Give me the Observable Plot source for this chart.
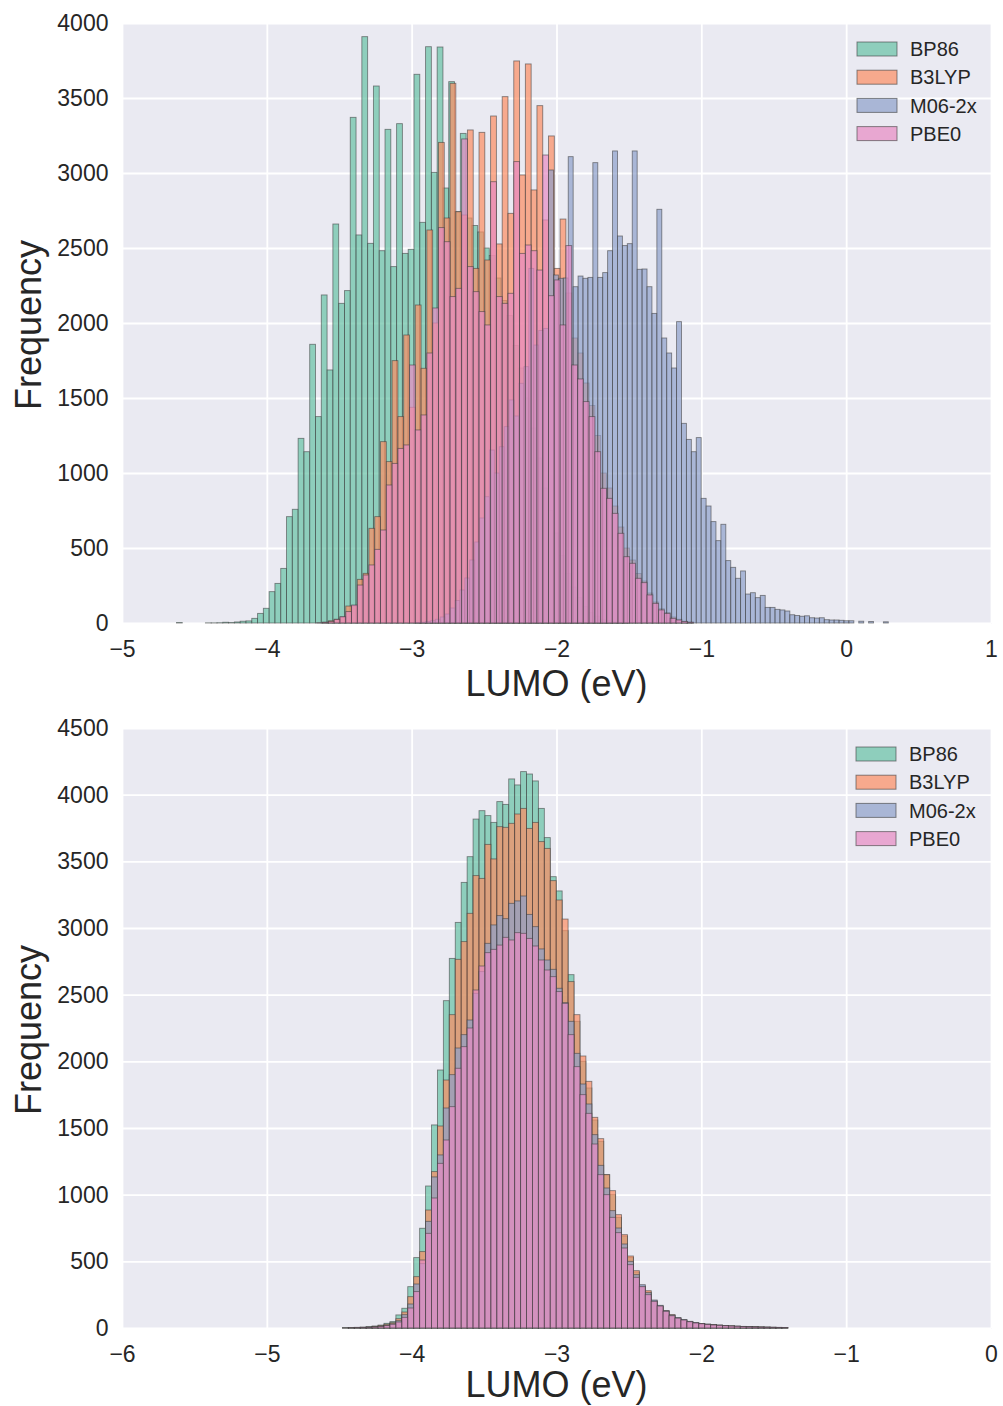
<!DOCTYPE html>
<html>
<head>
<meta charset="utf-8">
<script src="https://cdn.jsdelivr.net/npm/d3@7"></script>
<script src="https://cdn.jsdelivr.net/npm/@observablehq/plot@0.6"></script>
<style>
  body { margin: 0; background: #ffffff; }
  #chart { width: 1003px; }
  #chart svg { display: block; }
</style>
</head>
<body>
<div id="chart"></div>
<script>
// ---------- series ----------
const seriesNames = ["BP86", "B3LYP", "M06-2x", "PBE0"];
const seriesColors = ["#66c2a5", "#fc8d62", "#8da0cb", "#e78ac3"];

// ---------- top panel: LUMO histograms (bin start, bin width, counts) ----------
const topXTicks = [-5, -4, -3, -2, -1, 0, 1];
const topYTicks = [0, 500, 1000, 1500, 2000, 2500, 3000, 3500, 4000];

const topBP86Start = -4.624, topBP86Width = 0.04;
const topBP86 = [3,0,0,0,0,1,1,2,5,3,7,12,14,31,64,
  98,209,264,364,709,758,1231,1142,1858,1376,2187,1687,2660,2131,2216,3371,2587,3909,2531,3580,2482,3291,2376,3329,2464,2491,3658,2671,3842,3004,3840,2900,3609,2742,3264,2700,2650,2607,
  2500,2450,2300,2150,2050,1850,1700,1500,1300,1100,900,750,600,450,330,240,170,110,70,45,25,15,8,4,2];

const topB3LYPStart = -3.615, topB3LYPWidth = 0.04;
const topB3LYP = [5,15,25,40,113,115,291,331,631,709,1209,1076,1749,1376,1920,1438,2120,1698,2620,2000,3204,2700,
  3598,2742,2720,3287,2364,3271,2420,3380,2527,3509,2731,3747,2987,3727,2887,3449,2687,3247,2364,2693,
  2200,1900,1800,1600,1450,1250,1000,900,780,640,500,420,330,280,200,140,95,70,40,25,12,6];

const topM062xStart = -2.973, topM062xWidth = 0.034;
const topM062x = [3,5,10,
  15,25,40,60,100,150,220,300,420,540,
  700,842,1153,1000,1175,1309,1487,1380,1598,1709,
  2364,1853,1950,1964,3020,2320,2298,2300,3109,2242,
  2313,2298,2304,3069,2304,2336,2482,3147,2580,2516,
  2529,3147,2358,2360,2242,2064,2758,1900,1800,1700,
  2009,1331,1224,1142,1236,831,780,676,549,658,
  416,371,298,347,193,202,169,184,104,104,
  91,87,80,55,50,45,48,35,33,35,
  22,20,20,18,15,15,0,12,0,10,
  0,0,8];

const topPBE0Start = -3.655, topPBE0Width = 0.04;
const topPBE0 = [2,5,10,24,42,76,120,253,320,387,491,620,920,1064,1164,1187,1720,1287,1387,1800,2100,2636,2542,
  2176,2231,3227,2376,2209,2076,1987,2942,2176,2131,2198,3076,2464,2520,2482,2353,3120,2182,2287,1987,2516,
  1720,1627,1476,1376,1142,898,831,731,598,442,398,298,269,187,131,87,64,31,20,10,5];

// ---------- bottom panel ----------
const botXTicks = [-6, -5, -4, -3, -2, -1, 0];
const botYTicks = [0, 500, 1000, 1500, 2000, 2500, 3000, 3500, 4000, 4500];
const botStart = -4.478, botWidth = 0.041;

const botBP86 = [2,3,5,7,10,15,22,35,48,98,148,310,528,748,1065,1523,1935,
  2455,2772,3042,3342,3535,3817,3880,3843,3792,3948,3927,4118,4073,4173,4155,4103,3897,3678,3385,3278,2980,
  2650,2300,2000,1800,1560,1400,1150,1000,830,690,530,420,310,270,200,160,125,95,72,58,45,37,32,27,23,20,17,14,12,10,9,8,6,5,4,3,2];

const botB3LYP = [1,2,3,5,8,12,18,28,40,70,120,235,385,573,885,1173,1515,
  1860,2350,2765,2898,3110,3393,3372,3627,3518,3760,3755,3785,3855,3897,3747,3792,3648,3597,3355,3210,3067,
  2598,2350,2040,1850,1580,1420,1150,1030,850,700,540,430,315,280,205,165,130,100,75,60,47,38,34,29,25,22,19,16,14,12,10,9,8,7,6,5,4];

const botM062x = [1,1,2,3,5,8,12,20,32,55,100,180,330,483,800,1133,1298,
  1650,1900,2100,2200,2310,2510,2673,2885,3023,3093,3070,3185,3203,3240,3102,3010,2843,2760,2690,2548,2440,
  2300,2060,1830,1680,1450,1220,1050,880,750,630,500,400,325,265,210,170,130,97,78,63,50,40,34,28,24,21,18,15,13,11,10,8,7,6,5,4,3];

const botPBE0 = [0,1,2,3,5,8,12,18,28,45,80,150,273,510,710,975,1235,
  1410,1660,1948,2110,2250,2535,2715,2815,2840,2872,2930,2910,2965,2960,2922,2865,2760,2685,2635,2523,2435,
  2200,1960,1750,1610,1380,1150,1000,830,715,600,475,380,310,250,200,165,125,92,74,60,47,38,32,27,23,20,17,15,13,11,9,8,7,6,5,4,3];

// ---------- helpers ----------
const FONT = "'Liberation Sans', Arial, sans-serif";
const TEXT = "#262626";
const FILL_OPACITY = 0.7;

function toBins(series, start, width, counts) {
  return counts.map((c, i) => ({ series, x1: start + i * width, x2: start + (i + 1) * width, y: c }))
               .filter(d => d.y > 0);
}
const fmtX = d => (d < 0 ? "\u2212" + Math.abs(d) : String(d));
const fmtY = d => String(d);

function panel({ xDomain, xTicks, yDomain, yTicks, data, marginTop, marginBottom, height, legendY, boxX, textX, titleOffset }) {
  const W = 1003, ML = 122, MR = 12;
  const svg = Plot.plot({
    width: W, height, marginLeft: ML, marginRight: MR, marginTop, marginBottom,
    x: { domain: xDomain },
    y: { domain: yDomain },
    color: { domain: seriesNames, range: seriesColors },
    style: { fontFamily: FONT, background: "#ffffff", color: TEXT },
    marks: [
      Plot.frame({ fill: "#EAEAF2", stroke: null }),
      Plot.gridX(xTicks, { stroke: "#ffffff", strokeOpacity: 1, strokeWidth: 1.8 }),
      Plot.gridY(yTicks, { stroke: "#ffffff", strokeOpacity: 1, strokeWidth: 1.8 }),
      Plot.rect(data, { x1: "x1", x2: "x2", y1: 0, y2: "y", fill: "series", fillOpacity: FILL_OPACITY,
                        stroke: "#3c3c3c", strokeOpacity: 0.6, strokeWidth: 0.9, inset: 0 }),
      Plot.axisX(xTicks, { tickSize: 0, tickPadding: 17, fontSize: 23, label: null, tickFormat: fmtX, fill: TEXT }),
      Plot.axisY(yTicks, { tickSize: 0, tickPadding: 14, fontSize: 23, label: null, tickFormat: fmtY, fill: TEXT })
    ]
  });
  const s = d3.select(svg);
  const plotBottom = height - marginBottom;
  // axis titles
  s.append("text")
    .attr("x", (ML + W - MR) / 2).attr("y", plotBottom + titleOffset)
    .attr("text-anchor", "middle").attr("font-size", 36).attr("font-family", FONT).attr("fill", TEXT)
    .text("LUMO (eV)");
  s.append("text")
    .attr("transform", `translate(41,${(marginTop + plotBottom) / 2 + 2}) rotate(-90)`)
    .attr("text-anchor", "middle").attr("font-size", 36).attr("font-family", FONT).attr("fill", TEXT)
    .text("Frequency");
  // legend
  const g = s.append("g").attr("font-family", FONT).attr("font-size", 20).attr("fill", TEXT)
    .attr("text-anchor", "start");
  seriesNames.forEach((name, i) => {
    const cy = legendY + i * 28.2;
    g.append("rect").attr("x", boxX).attr("y", cy - 7).attr("width", 40).attr("height", 14)
      .attr("fill", seriesColors[i]).attr("fill-opacity", FILL_OPACITY)
      .attr("stroke", "#3c3c3c").attr("stroke-opacity", 0.6);
    g.append("text").attr("x", textX).attr("y", cy).attr("dy", "0.36em")
      .attr("text-anchor", "start").text(name);
  });
  return svg;
}

const topData = [
  ...toBins("BP86", topBP86Start, topBP86Width, topBP86),
  ...toBins("B3LYP", topB3LYPStart, topB3LYPWidth, topB3LYP),
  ...toBins("M06-2x", topM062xStart, topM062xWidth, topM062x),
  ...toBins("PBE0", topPBE0Start, topPBE0Width, topPBE0)
];
const botData = [
  ...toBins("BP86", botStart, botWidth, botBP86),
  ...toBins("B3LYP", botStart, botWidth, botB3LYP),
  ...toBins("M06-2x", botStart, botWidth, botM062x),
  ...toBins("PBE0", botStart, botWidth, botPBE0)
];

const chart = document.getElementById("chart");
chart.append(panel({
  xDomain: [-5, 1], xTicks: topXTicks, yDomain: [0, 4000], yTicks: topYTicks, data: topData,
  marginTop: 23, marginBottom: 80, height: 703, legendY: 49, boxX: 857, textX: 910, titleOffset: 73
}));
chart.append(panel({
  xDomain: [-6, 0], xTicks: botXTicks, yDomain: [0, 4500], yTicks: botYTicks, data: botData,
  marginTop: 25, marginBottom: 78, height: 703, legendY: 51, boxX: 856, textX: 909, titleOffset: 69
}));
</script>
</body>
</html>
